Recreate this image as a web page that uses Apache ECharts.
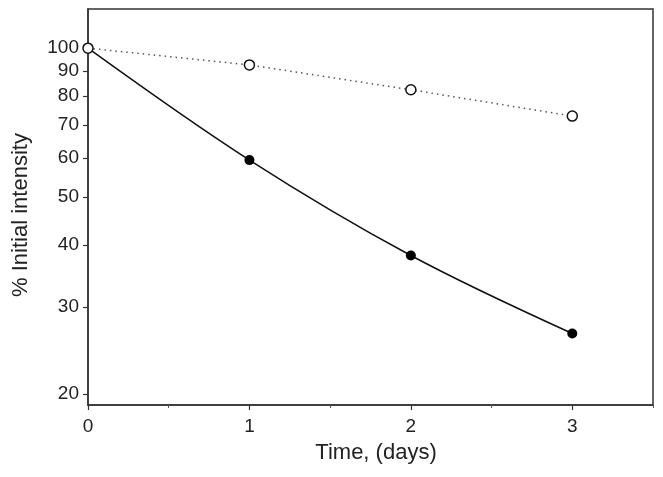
<!DOCTYPE html>
<html>
<head>
<meta charset="utf-8">
<script src="https://cdn.jsdelivr.net/npm/echarts@6/dist/echarts.min.js"></script>
<style>html,body{margin:0;padding:0;background:#fff}#c{width:663px;height:477px}</style>
</head>
<body>
<div id="c"></div>
<script>
const days = [0, 1, 2, 3];
const openSeries = [100, 92.5, 82.4, 72.9];
const filledSeries = [100, 59.4, 38.1, 26.5];
const xTicks = [0, 1, 2, 3];
const xMinorTicks = [0.5, 1.5, 2.5, 3.5];
const yTicks = [20, 30, 40, 50, 60, 70, 80, 90, 100];
const yMin = 19, yMax = 120;

const FONT = '"Liberation Sans", Arial, sans-serif';
const chart = echarts.init(document.getElementById('c'));
chart.setOption({
  animation: false,
  backgroundColor: '#fff',
  grid: { left: 88, right: 10, top: 9, bottom: 72, show: true, borderColor: '#333', borderWidth: 1.5, backgroundColor: 'transparent' },
  xAxis: [{
    type: 'value', min: 0, max: 3.5,
    name: 'Time, (days)', nameLocation: 'middle', nameGap: 37,
    nameTextStyle: { fontFamily: FONT, fontSize: 22, color: '#222', padding: [0, 0, 0, 11] },
    axisLine: { show: true, lineStyle: { color: '#333', width: 1.5 } },
    axisTick: { show: true, inside: false, length: 5, customValues: xTicks, lineStyle: { color: '#333', width: 1.2 } },
    axisLabel: { customValues: xTicks, fontFamily: FONT, fontSize: 19, color: '#222', margin: 12 },
    splitLine: { show: false }
  }, {
    type: 'value', min: 0, max: 3.5, position: 'bottom',
    axisLine: { show: false },
    axisTick: { show: true, length: 3, customValues: xMinorTicks, lineStyle: { color: '#555', width: 1 } },
    axisLabel: { show: false },
    splitLine: { show: false }
  }],
  yAxis: [{
    type: 'log', min: yMin, max: yMax, logBase: 10,
    axisLine: { show: true, lineStyle: { color: '#333', width: 1.5 } },
    axisTick: { show: false },
    axisLabel: { show: false },
    splitLine: { show: false },
    minorTick: { show: false }
  }, {
    type: 'value', position: 'left', min: Math.log10(yMin), max: Math.log10(yMax),
    name: '% Initial intensity', nameLocation: 'middle', nameGap: 56, nameRotate: 90,
    nameTextStyle: { fontFamily: FONT, fontSize: 22, color: '#222', padding: [0, 16, 0, 0] },
    axisLine: { show: false },
    axisTick: { show: true, length: 5, customValues: yTicks.map(v => Math.log10(v)), lineStyle: { color: '#333', width: 1.2 } },
    axisLabel: { customValues: yTicks.map(v => Math.log10(v)), formatter: v => String(Math.round(Math.pow(10, v))), fontFamily: FONT, fontSize: 19, color: '#222', margin: 9 },
    splitLine: { show: false }
  }],
  series: [{
    type: 'line', xAxisIndex: 0, yAxisIndex: 0,
    data: days.map((d, i) => [d, openSeries[i]]),
    symbol: 'circle', symbolSize: 10,
    itemStyle: { color: '#fff', borderColor: '#111', borderWidth: 1.5 },
    lineStyle: { color: '#555', width: 1.5, type: [1.5, 4] },
    z: 3
  }, {
    type: 'line', xAxisIndex: 0, yAxisIndex: 0,
    data: days.map((d, i) => [d, filledSeries[i]]),
    smooth: 0.35,
    symbol: 'circle', symbolSize: 10,
    itemStyle: { color: '#000', borderColor: '#000', borderWidth: 0 },
    lineStyle: { color: '#111', width: 1.5 },
    z: 2
  }]
});
</script>
</body>
</html>
